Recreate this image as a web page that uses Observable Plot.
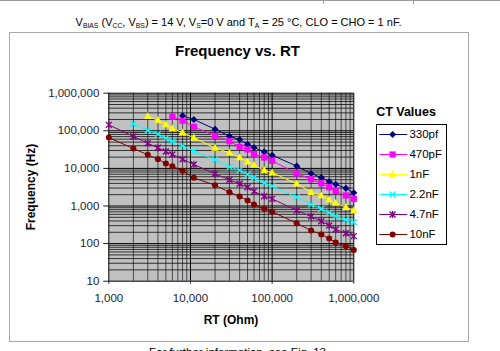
<!DOCTYPE html>
<html><head><meta charset="utf-8">
<script src="https://cdn.jsdelivr.net/npm/d3@7"></script>
<script src="https://cdn.jsdelivr.net/npm/@observablehq/plot@0.6"></script>
<style>
html,body{margin:0;padding:0;background:#fff;overflow:hidden;width:500px;height:351px;}
#wrap{position:relative;width:500px;height:351px;font-family:Arial,"Liberation Sans",sans-serif;color:#000;}
.abs{position:absolute;white-space:nowrap;}
sub{font-size:0.62em;vertical-align:-0.25em;line-height:0;}
</style></head><body><div id="wrap">
<div class="abs" style="left:0;top:0;width:500px;height:1px;background:#9a9a9a"></div>
<div class="abs" style="left:323px;top:0;width:1px;height:4px;background:#9a9a9a"></div>
<div class="abs" style="left:413px;top:0;width:1px;height:4px;background:#9a9a9a"></div>
<div class="abs" style="left:0;width:477px;top:17px;text-align:center;font-size:11px;line-height:11px;">V<sub>BIAS</sub> (V<sub>CC</sub>, V<sub>BS</sub>) = 14 V, V<sub>S</sub>=0 V and T<sub>A</sub> = 25 °C, CLO = CHO = 1 nF.</div>
<div class="abs" style="left:9px;top:32px;width:458px;height:308px;border:1px solid #a8a8a8;"></div>
<div id="chart" class="abs" style="left:0;top:0;"></div>
<div class="abs" style="left:0;width:475px;top:43px;text-align:center;font-size:15px;line-height:15px;font-weight:bold;">Frequency vs. RT</div>
<div class="abs" style="left:-19.5px;top:181px;width:100px;height:12px;line-height:12px;text-align:center;font-size:12px;font-weight:bold;transform:rotate(-90deg);">Frequency (Hz)</div>
<div class="abs" style="left:181px;width:100px;top:314px;text-align:center;font-size:12px;line-height:12px;font-weight:bold;">RT (Ohm)</div>
<div class="abs" style="left:356px;width:100px;top:106px;text-align:center;font-size:12.5px;line-height:12.5px;font-weight:bold;">CT Values</div>
<div id="legend" class="abs" style="left:376px;top:124px;"></div>
<div class="abs" style="left:0;width:475px;top:347px;text-align:center;font-size:11.5px;line-height:11.5px;">For further information, see Fig. 13</div>
</div>
<script>
// ---- data ----
const names  = ["330pf", "470pF", "1nF", "2.2nF", "4.7nF", "10nF"];
const colors = ["#000080", "#ff00ff", "#ffff00", "#00ffff", "#800080", "#800000"];

const rt330 = [8000, 11000, 20000, 30000, 40000, 50000, 60000, 80000, 100000, 200000, 300000, 400000, 500000, 600000, 800000, 1000000];
const f330  = [250000, 200000, 110000, 71800, 58700, 44000, 36000, 27600, 22400, 11500, 7300, 5700, 4500, 3800, 2950, 2250];

const rt470 = [6000, 8000, 11000, 20000, 30000, 40000, 50000, 60000, 80000, 100000, 200000, 300000, 400000, 500000, 600000, 800000, 1000000];
const f470  = [236000, 185000, 128000, 73600, 52800, 37500, 31800, 23900, 19500, 15900, 7300, 5160, 4000, 3150, 2480, 1900, 1550];

const rt1n = [3000, 4000, 5000, 6000, 8000, 11000, 20000, 30000, 40000, 50000, 60000, 80000, 100000, 200000, 300000, 400000, 500000, 600000, 800000, 1000000];
const f1n  = [244000, 191000, 147000, 115000, 90000, 65000, 35000, 26000, 19500, 15000, 12200, 8950, 7770, 3900, 2330, 1900, 1460, 1190, 930, 760];

const rt2n2 = [2000, 3000, 4000, 5000, 6000, 8000, 11000, 20000, 30000, 40000, 50000, 60000, 80000, 100000, 200000, 300000, 400000, 500000, 600000, 800000, 1000000];
const f2n2  = [153000, 102000, 83000, 63700, 52800, 39800, 28600, 16900, 11000, 8980, 6900, 5620, 4140, 3370, 1710, 1097, 843, 660, 537, 430, 371];

const rt4n7 = [1000, 2000, 3000, 4000, 5000, 6000, 8000, 11000, 20000, 30000, 40000, 50000, 60000, 80000, 100000, 200000, 300000, 400000, 500000, 600000, 800000, 1000000];
const f4n7  = [144000, 70500, 46800, 35300, 28200, 23400, 17600, 12700, 7180, 4980, 3900, 3160, 2450, 1820, 1550, 760, 525, 395, 302, 237, 189, 158];

const rt10n = [1000, 2000, 3000, 4000, 5000, 6000, 8000, 11000, 20000, 30000, 40000, 50000, 60000, 80000, 100000, 200000, 300000, 400000, 500000, 600000, 800000, 1000000];
const f10n  = [66000, 33800, 23000, 17500, 13500, 11400, 8600, 5600, 3570, 2330, 1790, 1400, 1097, 843, 702, 349, 223, 175, 136, 107, 85, 68];

const xTicks = [1000, 10000, 100000, 1000000];
const yTicks = [10, 100, 1000, 10000, 100000, 1000000];

// ---- symbols (half-extent = r) ----
function sym(fn){ return {draw(ctx, size){ fn(ctx, Math.sqrt(size / Math.PI)); }}; }
const diamondS = sym((c,r)=>{c.moveTo(0,-r);c.lineTo(r,0);c.lineTo(0,r);c.lineTo(-r,0);c.closePath();});
const squareS  = sym((c,r)=>{c.moveTo(-r,-r);c.lineTo(r,-r);c.lineTo(r,r);c.lineTo(-r,r);c.closePath();});
const triS     = sym((c,r)=>{c.moveTo(0,-r*1.15);c.lineTo(r*1.05,r*0.75);c.lineTo(-r*1.05,r*0.75);c.closePath();});
const crossS   = sym((c,r)=>{c.moveTo(-r,-r);c.lineTo(r,r);c.moveTo(-r,r);c.lineTo(r,-r);});
const starS    = sym((c,r)=>{c.moveTo(-r,-r);c.lineTo(r,r);c.moveTo(-r,r);c.lineTo(r,-r);c.moveTo(0,-r*1.2);c.lineTo(0,r*1.2);});
const circleS  = sym((c,r)=>{c.moveTo(r,0);c.arc(0,0,r,0,2*Math.PI);c.closePath();});

const xs = [rt330, rt470, rt1n, rt2n2, rt4n7, rt10n];
const ys = [f330, f470, f1n, f2n2, f4n7, f10n];
const marker = [
  {symbol: diamondS, r: 3.5, filled: true},
  {symbol: squareS,  r: 3.1, filled: true},
  {symbol: triS,     r: 3.6, filled: true},
  {symbol: crossS,   r: 3.0, filled: false},
  {symbol: starS,    r: 3.0, filled: false},
  {symbol: circleS,  r: 3.0, filled: true}
];
const series = names.map((name, i) => ({
  name, color: colors[i], ...marker[i],
  data: xs[i].map((x, j) => ({rt: x, f: ys[i][j]}))
}));

// gridlines (decade subdivisions)
const minorX = [];
for (let e = 3; e < 6; e++) for (let k = 2; k < 10; k++) minorX.push(k * 10 ** e);
const minorY = [];
for (let e = 1; e < 6; e++) for (let k = 2; k < 10; k++) minorY.push(k * 10 ** e);

const marks = [
  Plot.frame({fill: "#c0c0c0"}),
  Plot.ruleX(minorX, {stroke: "#000", strokeOpacity: 0.62}),
  Plot.ruleY(minorY, {stroke: "#000", strokeOpacity: 0.75}),
  Plot.ruleX(xTicks, {stroke: "#000"}),
  Plot.ruleY(yTicks, {stroke: "#000"}),
  Plot.axisX({ticks: xTicks, tickFormat: d3.format(","), tickSize: 3, tickPadding: 9.5, label: null, fontSize: 11.5}),
  Plot.axisY({ticks: yTicks, tickFormat: d3.format(","), tickSize: 5, tickPadding: 4.5, label: null, fontSize: 11.5})
];
for (const s of series) {
  marks.push(Plot.line(s.data, {x: "rt", y: "f", stroke: s.color, strokeWidth: 1}));
}
for (const s of series) {
  marks.push(Plot.dot(s.data, s.filled
    ? {x: "rt", y: "f", symbol: s.symbol, r: s.r, fill: s.color, stroke: "none"}
    : {x: "rt", y: "f", symbol: s.symbol, r: s.r, fill: "none", stroke: s.color, strokeWidth: 1.3}));
}

const chart = Plot.plot({
  width: 500, height: 351,
  marginLeft: 108.3, marginRight: 146.7, marginTop: 92.7, marginBottom: 70.3,
  x: {type: "log", domain: [1000, 1000000]},
  y: {type: "log", domain: [10, 1000000]},
  style: {fontFamily: "Arial, 'Liberation Sans', sans-serif", color: "#1a1a40", background: "transparent", overflow: "visible"},
  marks
});
document.getElementById("chart").appendChild(chart);

// ---- legend ----
const lmarks = [
  Plot.frame({fill: "#fff", stroke: "#000", strokeWidth: 1}),
];
for (const s of series) {
  lmarks.push(Plot.link([s.name], {x1: 0.04, x2: 0.44, y1: d => d, y2: d => d, stroke: s.color, strokeWidth: 1}));
  lmarks.push(Plot.dot([s.name], s.filled
    ? {x: 0.23, y: d => d, symbol: s.symbol, r: s.r, fill: s.color, stroke: "none"}
    : {x: 0.23, y: d => d, symbol: s.symbol, r: s.r, fill: "none", stroke: s.color, strokeWidth: 1.3}));
}
lmarks.push(Plot.text(names, {x: 0.47, y: d => d, text: d => d, textAnchor: "start", fontSize: 11.5, fill: "#000"}));
const legend = Plot.plot({
  width: 70, height: 120, margin: 0,
  x: {domain: [0, 1], axis: null},
  y: {type: "point", domain: names, padding: 0.5, axis: null},
  style: {fontFamily: "Arial, 'Liberation Sans', sans-serif", background: "transparent", overflow: "visible"},
  marks: lmarks
});
document.getElementById("legend").appendChild(legend);
</script>
</body></html>
